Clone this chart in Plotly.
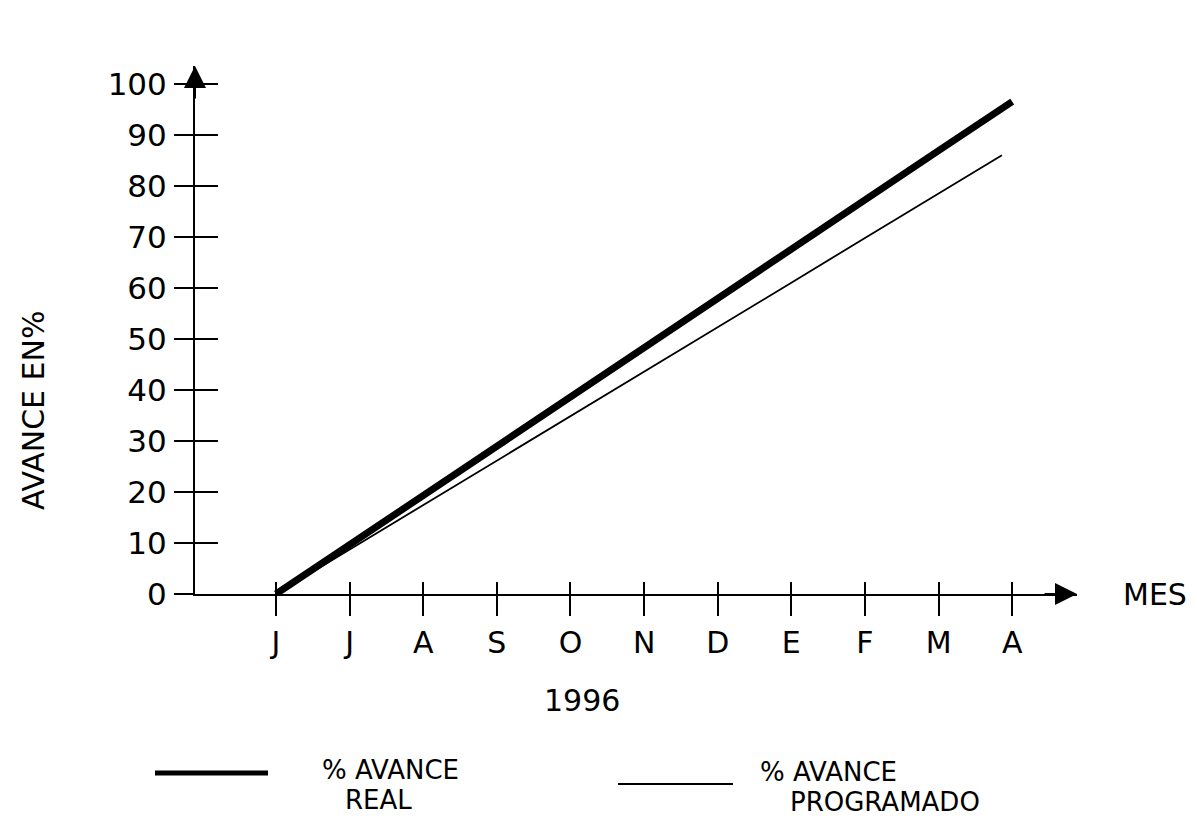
import plotly.graph_objects as go

# ---------------- data ----------------
MONTHS = ["J", "J", "A", "S", "O", "N", "D", "E", "F", "M", "A"]
MONTH_POS = [0, 1, 2, 3, 4, 5, 6, 7, 8, 9, 10]
REAL_PCT = [0, 9.7, 19.3, 29.0, 38.6, 48.3, 57.9, 67.6, 77.2, 86.9, 96.5]
PROG_POS = [0, 1, 2, 3, 4, 5, 6, 7, 8, 9, 9.86]
PROG_PCT = [0, 8.7, 17.4, 26.2, 34.9, 43.6, 52.3, 61.0, 69.8, 78.5, 86.0]
Y_TICKS = [0, 10, 20, 30, 40, 50, 60, 70, 80, 90, 100]
YEAR_LABEL = "1996"
X_TITLE = "MES"
Y_TITLE = "AVANCE EN%"
LEGEND_HEAD = "% AVANCE"
LEGEND_REAL = "REAL"
LEGEND_PROG = "PROGRAMADO"

# ---------------- geometry ----------------
W, H = 1197, 819
L, R, T, B = 195, 120, 66, 225
X_RANGE = [-1.1, 10.88]
Y_RANGE = [0, 103.5]


def px(x):
    return (x - L) / (W - L - R)


def py(y):
    return 1 - (y - T) / (H - T - B)


FONT = dict(family="DejaVu Sans", size=30, color="black")
TICKFONT_Y = dict(family="DejaVu Sans", size=31, color="black")
LEGFONT = dict(family="DejaVu Sans", size=26, color="black")

fig = go.Figure()
fig.add_trace(go.Scatter(x=PROG_POS, y=PROG_PCT, mode="lines",
                         line=dict(color="black", width=1.8),
                         showlegend=False, hoverinfo="skip"))
fig.add_trace(go.Scatter(x=MONTH_POS, y=REAL_PCT, mode="lines",
                         line=dict(color="black", width=7),
                         showlegend=False, hoverinfo="skip"))
fig.add_trace(go.Scatter(x=[None], y=[None], xaxis="x2", yaxis="y2",
                         showlegend=False, hoverinfo="skip"))

axis_common = dict(showgrid=False, zeroline=False, tickcolor="black",
                   tickwidth=2, fixedrange=True)

fig.update_layout(
    width=W, height=H, autosize=False,
    margin=dict(l=L, r=R, t=T, b=B),
    paper_bgcolor="white", plot_bgcolor="white",
    font=FONT,
    xaxis=dict(range=X_RANGE, tickmode="array", tickvals=MONTH_POS,
               ticktext=MONTHS, ticks="outside", ticklen=20,
               showline=True, linecolor="black", linewidth=2,
               tickfont=FONT, ticklabelstandoff=1, **axis_common),
    yaxis=dict(range=Y_RANGE, tickmode="array", tickvals=Y_TICKS,
               ticks="outside", ticklen=19,
               showline=True, linecolor="black", linewidth=2,
               tickfont=TICKFONT_Y, ticklabelstandoff=1, **axis_common),
    xaxis2=dict(range=X_RANGE, overlaying="x", anchor="y2", side="bottom",
                tickmode="array", tickvals=MONTH_POS, ticks="inside",
                ticklen=12, showticklabels=False, showline=False,
                **axis_common),
    yaxis2=dict(range=Y_RANGE, overlaying="y", anchor="x2", side="left",
                tickmode="array", tickvals=Y_TICKS, ticks="inside",
                ticklen=23, showticklabels=False, showline=False,
                **axis_common),
)


def label(x, y, text, anchor="center", angle=0, font=FONT):
    return dict(x=px(x), y=py(y), xref="paper", yref="paper", text=text,
                showarrow=False, font=font, xanchor=anchor,
                yanchor="middle", textangle=angle)


annotations = [
    # axis arrowheads
    dict(x=1, y=0, xref="paper", yref="paper", ax=-34, ay=0, text="",
         showarrow=True, arrowhead=2, arrowsize=2.2, arrowwidth=2,
         arrowcolor="black", standoff=0),
    dict(x=0, y=1, xref="paper", yref="paper", ax=0, ay=34, text="",
         showarrow=True, arrowhead=2, arrowsize=2.2, arrowwidth=2,
         arrowcolor="black", standoff=0),
    label(1155, 594, X_TITLE),
    label(582, 700, YEAR_LABEL),
    label(33, 410, Y_TITLE, angle=-90),
    label(320, 770, LEGEND_HEAD, anchor="left", font=LEGFONT),
    label(343, 800, LEGEND_REAL, anchor="left", font=LEGFONT),
    label(758, 772, LEGEND_HEAD, anchor="left", font=LEGFONT),
    label(788, 802, LEGEND_PROG, anchor="left", font=LEGFONT),
]
fig.update_layout(annotations=annotations)

fig.update_layout(shapes=[
    dict(type="line", xref="paper", yref="paper", x0=px(155), x1=px(268),
         y0=py(773), y1=py(773), line=dict(color="black", width=5)),
    dict(type="line", xref="paper", yref="paper", x0=px(618), x1=px(733),
         y0=py(784), y1=py(784), line=dict(color="black", width=2)),
])

fig.write_html("out.html",
               config={"displayModeBar": False},
               post_script="document.body.style.margin='0';"
                           "document.body.style.overflow='hidden';")
